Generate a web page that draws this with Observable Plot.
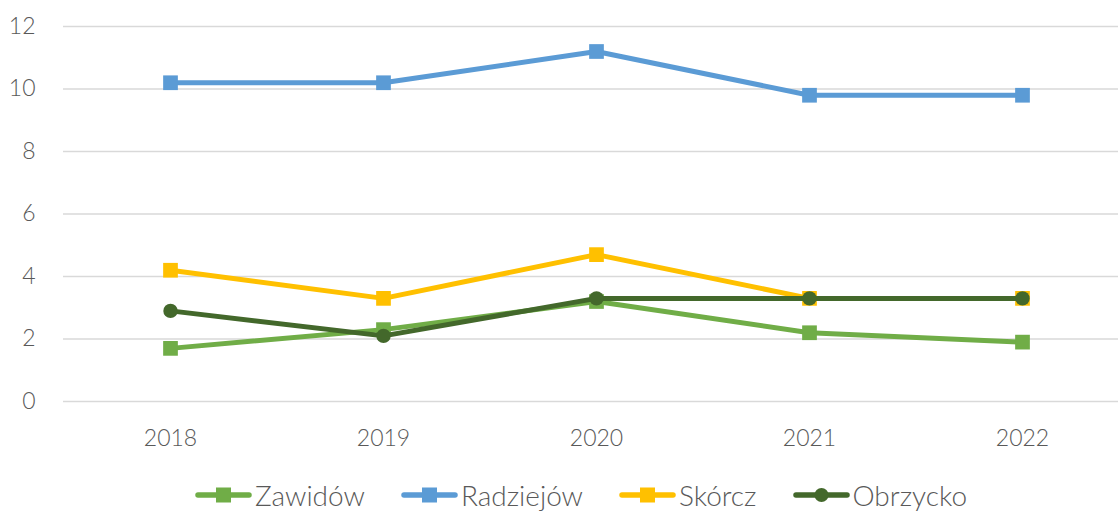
<!DOCTYPE html>
<html>
<head>
<meta charset="utf-8">
<script src="https://cdn.jsdelivr.net/npm/d3@7"></script>
<script src="https://cdn.jsdelivr.net/npm/@observablehq/plot@0.6"></script>
<style>
  html, body { margin: 0; padding: 0; background: #fff; }
  body { width: 1118px; height: 511px; overflow: hidden; font-family: "Lato", sans-serif; }
  #legend { position: relative; display: flex; justify-content: center; align-items: center; height: 41px; font-size: 28px; color: #595959; font-weight: 300; padding-left: 44px; top: 4px; }
  .item { display: flex; align-items: center; margin-right: 36px; }
  .item:last-child { margin-right: 0; }
  .item svg { margin-right: 3px; }
</style>
</head>
<body>
<div id="chart"></div>
<div id="legend"></div>
<script>
const years = ["2018", "2019", "2020", "2021", "2022"];
const seriesNames = ["Zawidów", "Radziejów", "Skórcz", "Obrzycko"];
const zawidow = [1.7, 2.3, 3.2, 2.2, 1.9];
const radziejow = [10.2, 10.2, 11.2, 9.8, 9.8];
const skorcz = [4.2, 3.3, 4.7, 3.3, 3.3];
const obrzycko = [2.9, 2.1, 3.3, 3.3, 3.3];
const yTicks = [0, 2, 4, 6, 8, 10, 12];
const colors = ["#70AD47", "#5B9BD5", "#FFC000", "#43682B"];
const symbols = ["square", "square", "square", "circle"];

const valuesBySeries = [zawidow, radziejow, skorcz, obrzycko];
const data = [];
seriesNames.forEach((s, i) => {
  years.forEach((y, j) => data.push({series: s, year: y, value: valuesBySeries[i][j]}));
});

const textColor = "#595959";
const font = "Lato, sans-serif";

const marks = [
  Plot.ruleY(yTicks, {stroke: "#d9d9d9", strokeWidth: 1.3}),
  Plot.axisY(yTicks, {tickSize: 0, tickPadding: 28, fontSize: 23, fill: textColor, label: null}),
  Plot.axisX(years, {tickSize: 0, tickPadding: 28, fontSize: 23, fill: textColor, label: null})
];
seriesNames.forEach((s, i) => {
  const d = data.filter(r => r.series === s);
  marks.push(Plot.line(d, {x: "year", y: "value", stroke: colors[i], strokeWidth: 5}));
  marks.push(Plot.dot(d, {x: "year", y: "value", fill: colors[i], symbol: symbols[i], r: symbols[i] === "circle" ? 7.2 : 8.3}));
});

const chart = Plot.plot({
  width: 1118,
  height: 470,
  marginLeft: 63,
  marginRight: 0,
  marginTop: 26,
  marginBottom: 69,
  style: {fontFamily: font, fontWeight: 300, background: "#fff"},
  x: {type: "point", domain: years, range: [170, 1022], padding: 0},
  y: {domain: [0, 12]},
  marks
});
document.getElementById("chart").appendChild(chart);

const legend = document.getElementById("legend");
seriesNames.forEach((s, i) => {
  const item = document.createElement("div");
  item.className = "item";
  const marker = symbols[i] === "circle"
    ? `<circle cx="28.5" cy="12" r="7" fill="${colors[i]}"/>`
    : `<rect x="21" y="4.5" width="15" height="15" fill="${colors[i]}"/>`;
  item.innerHTML = `<svg width="57" height="24"><line x1="3" x2="54" y1="12" y2="12" stroke="${colors[i]}" stroke-width="5.5" stroke-linecap="round"/>${marker}</svg><span>${s}</span>`;
  legend.appendChild(item);
});
</script>
</body>
</html>
